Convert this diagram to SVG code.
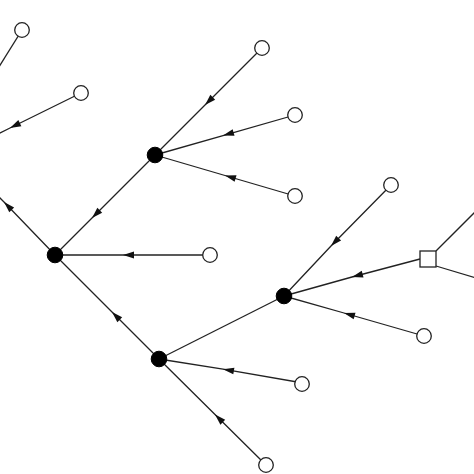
<svg xmlns="http://www.w3.org/2000/svg" width="474" height="474" viewBox="0 0 474 474">
<defs>
<marker id="arr" markerUnits="userSpaceOnUse" markerWidth="14" markerHeight="10" refX="12" refY="5" viewBox="0 0 14 10" orient="auto">
<path d="M12,5 L1,1.6 L1,8.4 z" fill="#111"/>
</marker>
</defs>
<style>
.e{fill:none;stroke:#222;stroke-width:1.3}
.a{marker-mid:url(#arr)}
.o{fill:#fff;stroke:#222;stroke-width:1.3}
.b{fill:#000;stroke:#000;stroke-width:1}
</style>
<rect width="474" height="474" fill="#fff"/>
<g id="connectors">
<path class="e a" d="M262,48 L205,105 L155,155"/>
<path class="e a" d="M295,115 L223,135.6 L155,155"/>
<path class="e a" d="M295,196 L225,175.5 L155,155"/>
<path class="e a" d="M155,155 L92,218 L55,255"/>
<path class="e a" d="M210,255 L123,255 L55,255"/>
<path class="e a" d="M55,255 L4,202 L-2,196"/>
<path class="e a" d="M159,359 L112,312 L55,255"/>
<path class="e a" d="M266,465 L215,414.5 L159,359"/>
<path class="e a" d="M303,383 L223,369.2 L159,359"/>
<path class="e" d="M159,359 L284,296"/>
<path class="e a" d="M391,185 L331,246 L284,296"/>
<path class="e a" d="M420,259 L352,277 L284,296"/>
<path class="e a" d="M424,336 L344,313 L284,296"/>
<path class="e a" d="M81,93 L10,128 L-4,135"/>
<path class="e" d="M22,30 L-3,70"/>
<path class="e" d="M436,251 L476,211"/>
<path class="e" d="M436,266 L476,278"/>
</g>
<g id="nodeA"><circle class="b" cx="155" cy="155" r="7.8"/></g>
<g id="nodeB"><circle class="b" cx="55" cy="255" r="7.8"/></g>
<g id="nodeC"><circle class="b" cx="159" cy="359" r="7.8"/></g>
<g id="nodeD"><circle class="b" cx="284" cy="296" r="7.8"/></g>
<g id="leaf1"><circle class="o" cx="22" cy="30" r="7.3"/></g>
<g id="leaf2"><circle class="o" cx="81" cy="93" r="7.3"/></g>
<g id="leaf3"><circle class="o" cx="262" cy="48" r="7.3"/></g>
<g id="leaf4"><circle class="o" cx="295" cy="115" r="7.3"/></g>
<g id="leaf5"><circle class="o" cx="295" cy="196" r="7.3"/></g>
<g id="leaf6"><circle class="o" cx="210" cy="255" r="7.3"/></g>
<g id="leaf7"><circle class="o" cx="391" cy="185" r="7.3"/></g>
<g id="leaf8"><circle class="o" cx="424" cy="336" r="7.3"/></g>
<g id="leaf9"><circle class="o" cx="302" cy="384" r="7.3"/></g>
<g id="leaf10"><circle class="o" cx="266" cy="465" r="7.3"/></g>
<g id="square"><rect class="o" x="420" y="251" width="16" height="16"/></g>
</svg>
